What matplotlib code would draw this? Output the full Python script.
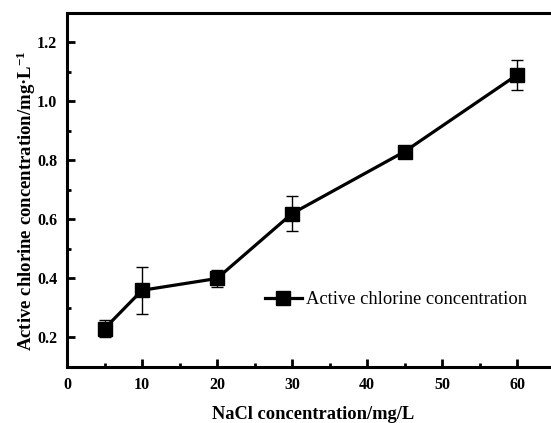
import numpy as np
import matplotlib
matplotlib.use('Agg')
import matplotlib.pyplot as plt
from matplotlib.ticker import MultipleLocator

plt.rcParams['font.family'] = 'Liberation Serif'
plt.rcParams['mathtext.fontset'] = 'custom'
plt.rcParams['mathtext.rm'] = 'Liberation Serif:bold'
plt.rcParams['mathtext.default'] = 'rm'

nacl = [5, 10, 20, 30, 45, 60]
chlorine = [0.23, 0.36, 0.40, 0.62, 0.83, 1.09]
chlorine_err = [0.03, 0.08, 0.03, 0.06, 0.01, 0.05]
series_label = 'Active chlorine concentration'

fig = plt.figure(figsize=(5.51, 4.23), dpi=100)
ax = fig.add_axes([0.1216, 0.1324, 0.8848, 0.8369])

# error bars first, then the line + markers (legend shows no error bar)
ax.errorbar(nacl, chlorine, yerr=chlorine_err, fmt='none', ecolor='black',
            elinewidth=1.0, capsize=4, capthick=1.0)
ax.plot(nacl, chlorine, color='black', lw=2.3, marker='s', markersize=9.5,
        label=series_label)

ax.set_xlim(0, 65)
ax.set_ylim(0.1, 1.3)
ax.xaxis.set_major_locator(MultipleLocator(10))
ax.xaxis.set_minor_locator(MultipleLocator(5))
ax.set_yticks([0.2, 0.4, 0.6, 0.8, 1.0, 1.2])
ax.set_yticklabels(['0.2', '0.4', '0.6', '0.8', '1.0', '1.2'])
ax.yaxis.set_minor_locator(MultipleLocator(0.1))
ax.tick_params(which='both', direction='in', top=False, right=False, width=2)
ax.tick_params(which='major', length=6, labelsize=11.5, pad=7)
ax.tick_params(which='minor', length=3)
for lbl in ax.get_xticklabels() + ax.get_yticklabels():
    lbl.set_fontweight('bold')
for s in ax.spines.values():
    s.set_linewidth(2.2)

ax.set_xlabel('NaCl concentration/mg/L', fontsize=13.3, fontweight='bold')
ax.xaxis.set_label_coords(0.505, -0.11)
ax.set_ylabel('Active chlorine concentration/mg\u00b7L$^{-1}$', fontsize=13.5,
              fontweight='bold')
ax.yaxis.set_label_coords(-0.059, 0.47)

ax.legend(loc='center left', bbox_to_anchor=(0.406, 0.19), frameon=False,
          fontsize=13.3, handlelength=2.0, handletextpad=0.2,
          borderpad=0, borderaxespad=0)

fig.savefig('out.png', dpi=100)
